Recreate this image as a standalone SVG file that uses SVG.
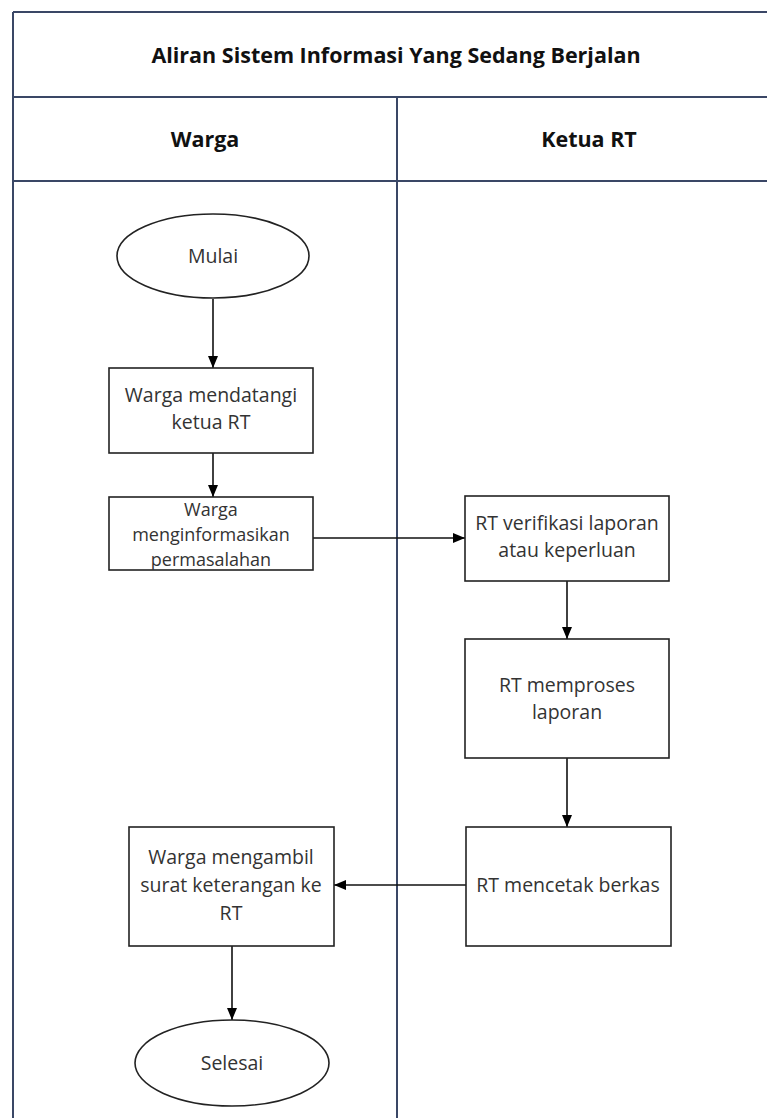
<svg xmlns="http://www.w3.org/2000/svg" width="767" height="1118" viewBox="0 0 767 1118">
<defs>
<marker id="ah" viewBox="0 0 12 10" refX="12" refY="5" markerWidth="12" markerHeight="10" markerUnits="userSpaceOnUse" orient="auto">
<path d="M0,0 L12,5 L0,10 Z" fill="#000"/>
</marker>
</defs>
<style>
.frame{fill:none;stroke:#3a4766;stroke-width:2}
.node{fill:#fff;stroke:#222;stroke-width:1.6}
.conn{fill:none;stroke:#111;stroke-width:1.6;marker-end:url(#ah)}
.hdr{font-family:"Open Sans",sans-serif;font-weight:bold;font-size:21.5px;fill:#111;text-anchor:middle}
.lbl{font-family:"Open Sans",sans-serif;font-size:19.5px;fill:#333;text-anchor:middle}
.sm{font-size:18px}
</style>
<rect width="767" height="1118" fill="#fff"/>
<g id="frame">
<line class="frame" x1="13" y1="12" x2="767" y2="12"/>
<line class="frame" x1="13" y1="12" x2="13" y2="1118"/>
<line class="frame" x1="13" y1="97" x2="767" y2="97"/>
<line class="frame" x1="13" y1="181" x2="767" y2="181"/>
<line class="frame" x1="397" y1="97" x2="397" y2="1118"/>
<text class="hdr" x="396" y="63">Aliran Sistem Informasi Yang Sedang Berjalan</text>
<text class="hdr" x="205" y="147">Warga</text>
<text class="hdr" x="589" y="147">Ketua RT</text>
</g>
<g id="connectors">
<line class="conn" x1="213" y1="299" x2="213" y2="368"/>
<line class="conn" x1="213" y1="453" x2="213" y2="497"/>
<line class="conn" x1="313" y1="538" x2="465" y2="538"/>
<line class="conn" x1="567" y1="581" x2="567" y2="639"/>
<line class="conn" x1="567" y1="758" x2="567" y2="827"/>
<line class="conn" x1="466" y1="885" x2="334" y2="885"/>
<line class="conn" x1="232" y1="946" x2="232" y2="1020"/>
</g>
<g id="mulai">
<ellipse class="node" cx="213" cy="256" rx="96" ry="42"/>
<text class="lbl" x="213" y="263">Mulai</text>
</g>
<g id="mendatangi">
<rect class="node" x="109" y="368" width="204" height="85"/>
<text class="lbl" x="211" y="402">Warga mendatangi</text>
<text class="lbl" x="211" y="429">ketua RT</text>
</g>
<g id="menginformasikan">
<rect class="node" x="109" y="497" width="204" height="73"/>
<text class="lbl sm" x="211" y="516">Warga</text>
<text class="lbl sm" x="211" y="541">menginformasikan</text>
<text class="lbl sm" x="211" y="566">permasalahan</text>
</g>
<g id="verifikasi">
<rect class="node" x="465" y="496" width="204" height="85"/>
<text class="lbl" x="567" y="530">RT verifikasi laporan</text>
<text class="lbl" x="567" y="557">atau keperluan</text>
</g>
<g id="memproses">
<rect class="node" x="465" y="639" width="204" height="119"/>
<text class="lbl" x="567" y="692">RT memproses</text>
<text class="lbl" x="567" y="719">laporan</text>
</g>
<g id="mencetak">
<rect class="node" x="466" y="827" width="205" height="119"/>
<text class="lbl" x="568" y="892">RT mencetak berkas</text>
</g>
<g id="mengambil">
<rect class="node" x="129" y="827" width="205" height="119"/>
<text class="lbl" x="231" y="864">Warga mengambil</text>
<text class="lbl" x="231" y="892">surat keterangan ke</text>
<text class="lbl" x="231" y="920">RT</text>
</g>
<g id="selesai">
<ellipse class="node" cx="232" cy="1063" rx="97" ry="43"/>
<text class="lbl" x="232" y="1070">Selesai</text>
</g>
</svg>
